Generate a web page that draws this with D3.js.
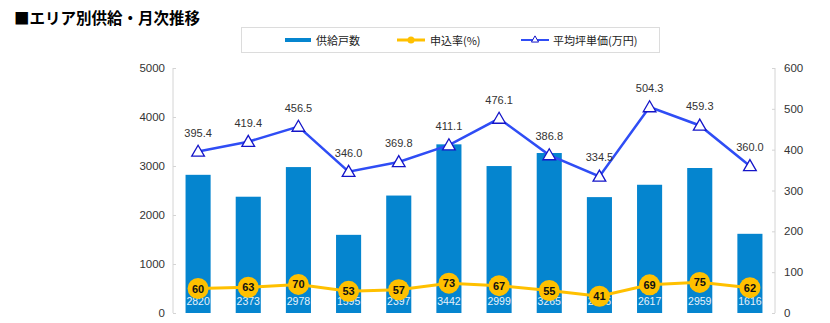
<!DOCTYPE html>
<html>
<head>
<meta charset="utf-8">
<script src="https://cdn.jsdelivr.net/npm/d3@7"></script>
<style>
  html, body { margin: 0; padding: 0; background: #fff; }
  svg { display: block; }
  text { font-family: "Liberation Sans", Arial, "Noto Sans CJK JP", sans-serif; }
  .jp { font-family: "Noto Sans CJK JP", sans-serif; }
</style>
</head>
<body>
<svg id="chart" width="830" height="323"></svg>
<script>
// Monthly supply by area
const months = ["1", "2", "3", "4", "5", "6", "7", "8", "9", "10", "11", "12"];
const supplyUnits = [2820, 2373, 2978, 1595, 2397, 3442, 2999, 3265, 2365, 2617, 2959, 1616];
const applicationRate = [60, 63, 70, 53, 57, 73, 67, 55, 41, 69, 75, 62];
const avgPricePerTsubo = [395.4, 419.4, 456.5, 346.0, 369.8, 411.1, 476.1, 386.8, 334.5, 504.3, 459.3, 360.0];
const leftTicks = [0, 1000, 2000, 3000, 4000, 5000];
const rightTicks = [0, 100, 200, 300, 400, 500, 600];
const legendLabels = ["供給戸数", "申込率(%)", "平均坪単価(万円)"];
const titleText = "■エリア別供給・月次推移";

const colors = { bar: "#0585cf", rate: "#ffc000", price: "#2f4df5", tri: "#1414c8", axis: "#d4d4d4" };

const svg = d3.select("#chart");
const plot = { left: 173, right: 775, top: 68, bottom: 313 };

const x = d3.scaleBand().domain(months).range([plot.left, plot.right]).paddingInner(0.5).paddingOuter(0.25);
const yL = d3.scaleLinear().domain([0, 5000]).range([plot.bottom, plot.top]);
const yR = d3.scaleLinear().domain([0, 600]).range([plot.bottom, plot.top]);

// Title
svg.append("text").attr("class", "jp")
  .attr("x", 14).attr("y", 24)
  .attr("font-size", 15.5).attr("font-weight", "bold").attr("fill", "#000")
  .text(titleText);

// Legend box
const lg = svg.append("g");
lg.append("rect").attr("x", 241.5).attr("y", 27.5).attr("width", 418).attr("height", 25)
  .attr("fill", "#fff").attr("stroke", "#dcdcdc").attr("stroke-width", 1);
// supply swatch
lg.append("rect").attr("x", 285).attr("y", 38).attr("width", 26).attr("height", 4).attr("fill", colors.bar);
lg.append("text").attr("class", "jp").attr("x", 316).attr("y", 44.5).attr("font-size", 11).attr("fill", "#222").text(legendLabels[0]);
// rate swatch
lg.append("line").attr("x1", 397).attr("x2", 425).attr("y1", 40).attr("y2", 40).attr("stroke", colors.rate).attr("stroke-width", 3);
lg.append("circle").attr("cx", 411).attr("cy", 40).attr("r", 3.5).attr("fill", colors.rate);
lg.append("text").attr("class", "jp").attr("x", 430).attr("y", 44.5).attr("font-size", 11).attr("fill", "#222").text(legendLabels[1]);
// price swatch
lg.append("line").attr("x1", 521).attr("x2", 549).attr("y1", 40).attr("y2", 40).attr("stroke", colors.price).attr("stroke-width", 2);
lg.append("path").attr("d", d3.symbol(d3.symbolTriangle, 22)()).attr("transform", "translate(535,40)")
  .attr("fill", "#fff").attr("stroke", colors.tri).attr("stroke-width", 1);
lg.append("text").attr("class", "jp").attr("x", 553).attr("y", 44.5).attr("font-size", 11).attr("fill", "#222").text(legendLabels[2]);

// Axes
const axL = svg.append("g").attr("transform", `translate(${plot.left},0)`)
  .call(d3.axisRight(yL).tickValues(leftTicks).tickSize(3).tickFormat(""));
const axR = svg.append("g").attr("transform", `translate(${plot.right},0)`)
  .call(d3.axisLeft(yR).tickValues(rightTicks).tickSize(3).tickFormat(""));
[axL, axR].forEach(a => {
  a.selectAll("path, line").attr("stroke", colors.axis);
  a.select(".domain").attr("d", `M0,${plot.top}V${plot.bottom}`);
});
svg.append("g").selectAll("text").data(leftTicks).join("text")
  .attr("x", 165).attr("y", d => yL(d) + 4).attr("text-anchor", "end")
  .attr("font-size", 11.5).attr("fill", "#333").text(d => d);
svg.append("g").selectAll("text").data(rightTicks).join("text")
  .attr("x", 784).attr("y", d => yR(d) + 4).attr("text-anchor", "start")
  .attr("font-size", 11.5).attr("fill", "#333").text(d => d);

// Bars
svg.append("g").selectAll("rect").data(supplyUnits).join("rect")
  .attr("x", (d, i) => x(months[i])).attr("width", x.bandwidth())
  .attr("y", d => yL(d)).attr("height", d => plot.bottom - yL(d))
  .attr("fill", colors.bar);

const cx = i => x(months[i]) + x.bandwidth() / 2;

// Bar value labels
svg.append("g").selectAll("text").data(supplyUnits).join("text")
  .attr("x", (d, i) => cx(i)).attr("y", 305).attr("text-anchor", "middle")
  .attr("font-size", 10.5).attr("fill", "#e8f2fa").text(d => d);

// Application rate line
svg.append("path").datum(applicationRate)
  .attr("d", d3.line().x((d, i) => cx(i)).y(d => yR(d)))
  .attr("fill", "none").attr("stroke", colors.rate).attr("stroke-width", 3);
svg.append("g").selectAll("circle").data(applicationRate).join("circle")
  .attr("cx", (d, i) => cx(i)).attr("cy", d => yR(d)).attr("r", 10.5)
  .attr("fill", colors.rate);
svg.append("g").selectAll("text").data(applicationRate).join("text")
  .attr("x", (d, i) => cx(i)).attr("y", d => yR(d) + 4).attr("text-anchor", "middle")
  .attr("font-size", 11).attr("font-weight", "bold").attr("fill", "#111").text(d => d);

// Average price line
svg.append("path").datum(avgPricePerTsubo)
  .attr("d", d3.line().x((d, i) => cx(i)).y(d => yR(d)))
  .attr("fill", "none").attr("stroke", colors.price).attr("stroke-width", 2.5);
svg.append("g").selectAll("path").data(avgPricePerTsubo).join("path")
  .attr("d", d3.symbol(d3.symbolTriangle, 70)())
  .attr("transform", (d, i) => `translate(${cx(i)},${yR(d) + 1})`)
  .attr("fill", "#fff").attr("stroke", colors.tri).attr("stroke-width", 1.3);
svg.append("g").selectAll("text").data(avgPricePerTsubo).join("text")
  .attr("x", (d, i) => cx(i)).attr("y", d => yR(d) - 15).attr("text-anchor", "middle")
  .attr("font-size", 11).attr("fill", "#333").text(d => d.toFixed(1));
</script>
</body>
</html>
